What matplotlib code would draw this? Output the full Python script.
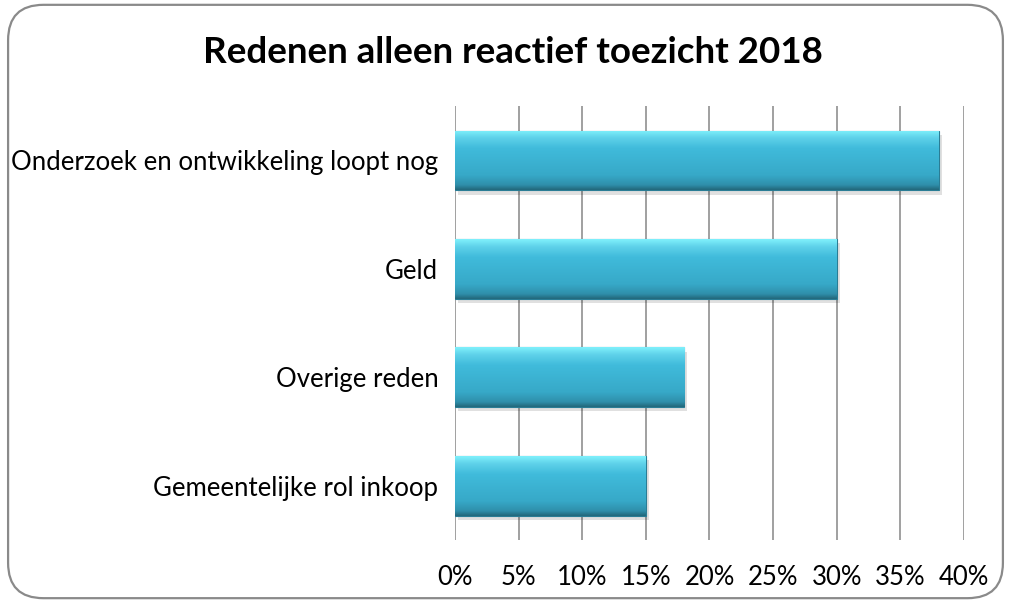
import matplotlib
matplotlib.use("Agg")
import matplotlib.pyplot as plt
import numpy as np
from matplotlib.colors import LinearSegmentedColormap
from matplotlib.patches import FancyBboxPatch
from matplotlib.ticker import FuncFormatter

plt.rcParams["font.family"] = ["Lato", "DejaVu Sans"]

TITLE = "Redenen alleen reactief toezicht 2018"
CATEGORIES = [
    "Onderzoek en ontwikkeling loopt nog",
    "Geld",
    "Overige reden",
    "Gemeentelijke rol inkoop",
]
VALUES = [38, 30, 18, 15]  # percent
XTICKS = [0, 5, 10, 15, 20, 25, 30, 35, 40]

BAR_CMAP = LinearSegmentedColormap.from_list(
    "bevel",
    [(0.0, "#7ff0fb"), (0.12, "#5fd2ea"), (0.3, "#40bbdb"),
     (0.75, "#37a9c8"), (0.92, "#2f8fab"), (1.0, "#23687c")],
)


def main():
    fig = plt.figure(figsize=(10.11, 6.03), dpi=100)
    ax = fig.add_axes([0.450, 0.1045, 0.5035, 0.7195])

    # rounded chart border
    border = FancyBboxPatch(
        (0.008, 0.008), 0.984, 0.984,
        boxstyle="round,pad=0,rounding_size=0.035",
        transform=fig.transFigure, fill=False, edgecolor="#8a8a8a", linewidth=1.6,
        mutation_aspect=1011 / 603,
    )
    fig.patches.append(border)

    y = np.arange(len(CATEGORIES))
    h = 0.55
    # soft shadow
    ax.barh(y + 0.04, VALUES, height=h, left=0.25, color="#000000", alpha=0.12, zorder=2)
    bars = ax.barh(y, VALUES, height=h, color="#3bb3d4", edgecolor="#2a7d95",
                   linewidth=0.8, zorder=3)

    grad = np.linspace(0, 1, 100).reshape(-1, 1)
    for b in bars:
        x0, y0 = b.get_x(), b.get_y()
        im = ax.imshow(grad, cmap=BAR_CMAP, aspect="auto",
                       extent=(x0, x0 + b.get_width(), y0 + b.get_height(), y0),
                       zorder=3.5, interpolation="bicubic")
        im.set_clip_path(b)

    ax.set_xlim(0, 40)
    ax.set_ylim(len(CATEGORIES) - 0.5, -0.5)
    ax.set_xticks(XTICKS)
    ax.xaxis.set_major_formatter(FuncFormatter(lambda v, _: f"{v:.0f}%"))
    ax.set_yticks(y)
    ax.set_yticklabels(CATEGORIES)
    ax.tick_params(axis="both", length=0, labelsize=18.5, colors="#000000")
    ax.tick_params(axis="x", pad=18)
    ax.tick_params(axis="y", pad=12)
    ax.grid(True, axis="x", color="#868686", linewidth=1.1, zorder=0)
    ax.set_axisbelow(True)
    for s in ax.spines.values():
        s.set_visible(False)

    fig.text(0.507, 0.913, TITLE, ha="center", va="center", fontsize=26.5,
             fontweight="bold", color="#000000")

    fig.savefig("out.png", dpi=100)


if __name__ == "__main__":
    main()
